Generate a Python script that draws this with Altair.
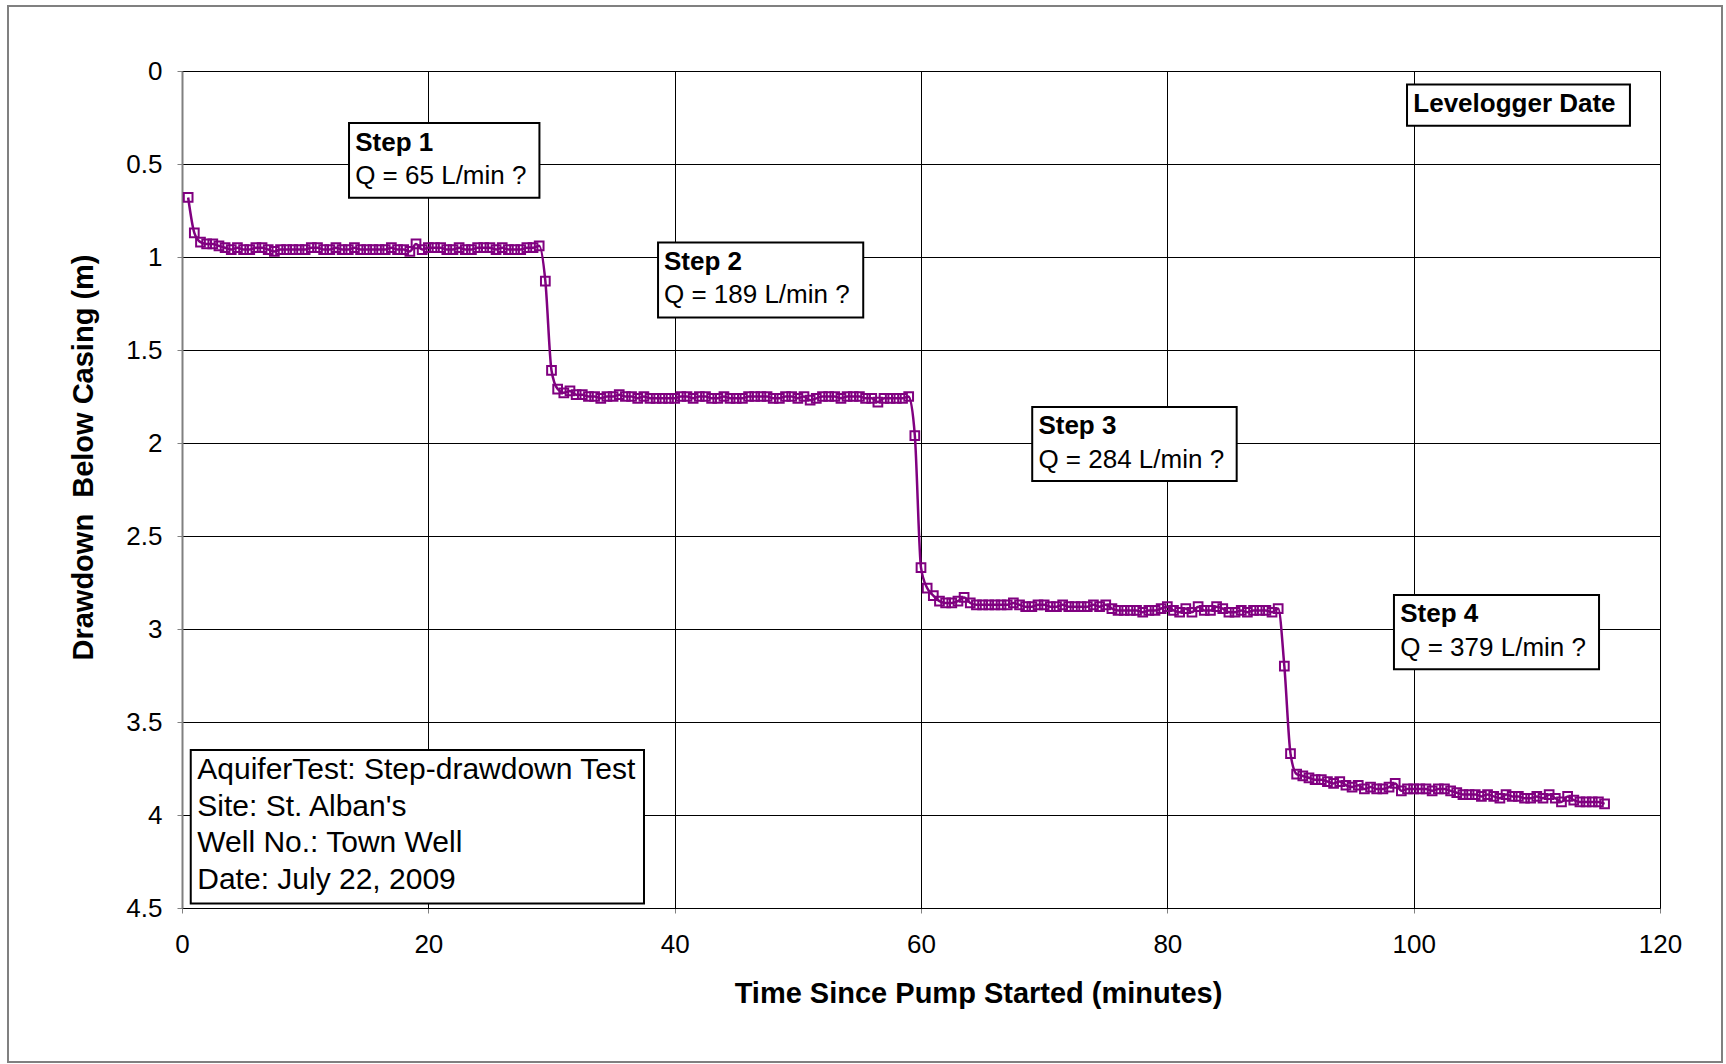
import altair as alt
import pandas as pd

# ---------------- data ----------------
time_min = [
    0.5, 1, 1.5, 2, 2.5, 3, 3.5, 4, 4.5, 5,
    5.5, 6, 6.5, 7, 7.5, 8, 8.5, 9, 9.5, 10,
    10.5, 11, 11.5, 12, 12.5, 13, 13.5, 14, 14.5, 15,
    15.5, 16, 16.5, 17, 17.5, 18, 18.5, 19, 19.5, 20,
    20.5, 21, 21.5, 22, 22.5, 23, 23.5, 24, 24.5, 25,
    25.5, 26, 26.5, 27, 27.5, 28, 28.5, 29, 29.5, 30,
    30.5, 31, 31.5, 32, 32.5, 33, 33.5, 34, 34.5, 35,
    35.5, 36, 36.5, 37, 37.5, 38, 38.5, 39, 39.5, 40,
    40.5, 41, 41.5, 42, 42.5, 43, 43.5, 44, 44.5, 45,
    45.5, 46, 46.5, 47, 47.5, 48, 48.5, 49, 49.5, 50,
    50.5, 51, 51.5, 52, 52.5, 53, 53.5, 54, 54.5, 55,
    55.5, 56, 56.5, 57, 57.5, 58, 58.5, 59, 59.5, 60,
    60.5, 61, 61.5, 62, 62.5, 63, 63.5, 64, 64.5, 65,
    65.5, 66, 66.5, 67, 67.5, 68, 68.5, 69, 69.5, 70,
    70.5, 71, 71.5, 72, 72.5, 73, 73.5, 74, 74.5, 75,
    75.5, 76, 76.5, 77, 77.5, 78, 78.5, 79, 79.5, 80,
    80.5, 81, 81.5, 82, 82.5, 83, 83.5, 84, 84.5, 85,
    85.5, 86, 86.5, 87, 87.5, 88, 88.5, 89, 89.5, 90,
    90.5, 91, 91.5, 92, 92.5, 93, 93.5, 94, 94.5, 95,
    95.5, 96, 96.5, 97, 97.5, 98, 98.5, 99, 99.5, 100,
    100.5, 101, 101.5, 102, 102.5, 103, 103.5, 104, 104.5, 105,
    105.5, 106, 106.5, 107, 107.5, 108, 108.5, 109, 109.5, 110,
    110.5, 111, 111.5, 112, 112.5, 113, 113.5, 114, 114.5, 115,
    115.5,
]

drawdown_m = [
    0.68, 0.87, 0.92, 0.93, 0.93, 0.94, 0.95, 0.96, 0.95, 0.96,
    0.96, 0.95, 0.95, 0.96, 0.97, 0.96, 0.96, 0.96, 0.96, 0.96,
    0.95, 0.95, 0.96, 0.96, 0.95, 0.96, 0.96, 0.95, 0.96, 0.96,
    0.96, 0.96, 0.96, 0.95, 0.96, 0.96, 0.97, 0.93, 0.96, 0.95,
    0.95, 0.95, 0.96, 0.96, 0.95, 0.96, 0.96, 0.95, 0.95, 0.95,
    0.96, 0.95, 0.96, 0.96, 0.96, 0.95, 0.95, 0.94, 1.13, 1.61,
    1.71, 1.73, 1.72, 1.74, 1.74, 1.75, 1.75, 1.76, 1.75, 1.75,
    1.74, 1.75, 1.75, 1.76, 1.75, 1.76, 1.76, 1.76, 1.76, 1.76,
    1.75, 1.75, 1.76, 1.75, 1.75, 1.76, 1.76, 1.75, 1.76, 1.76,
    1.76, 1.75, 1.75, 1.75, 1.75, 1.76, 1.76, 1.75, 1.75, 1.76,
    1.75, 1.77, 1.76, 1.75, 1.75, 1.75, 1.76, 1.75, 1.75, 1.75,
    1.76, 1.76, 1.78, 1.76, 1.76, 1.76, 1.76, 1.75, 1.96, 2.67,
    2.78, 2.82, 2.85, 2.86, 2.86, 2.85, 2.83, 2.86, 2.87, 2.87,
    2.87, 2.87, 2.87, 2.87, 2.86, 2.87, 2.88, 2.88, 2.87, 2.87,
    2.88, 2.88, 2.87, 2.88, 2.88, 2.88, 2.88, 2.87, 2.88, 2.87,
    2.89, 2.90, 2.90, 2.90, 2.90, 2.91, 2.90, 2.90, 2.89, 2.88,
    2.90, 2.91, 2.89, 2.91, 2.88, 2.90, 2.90, 2.88, 2.89, 2.91,
    2.91, 2.90, 2.91, 2.90, 2.90, 2.90, 2.91, 2.89, 3.20, 3.67,
    3.78, 3.79, 3.80, 3.81, 3.81, 3.82, 3.83, 3.82, 3.84, 3.85,
    3.84, 3.86, 3.85, 3.86, 3.86, 3.85, 3.83, 3.87, 3.86, 3.86,
    3.86, 3.86, 3.87, 3.86, 3.86, 3.87, 3.88, 3.89, 3.89, 3.89,
    3.90, 3.89, 3.90, 3.91, 3.89, 3.90, 3.90, 3.91, 3.91, 3.90,
    3.91, 3.89, 3.91, 3.93, 3.90, 3.92, 3.93, 3.93, 3.93, 3.93,
    3.94,
]

x_ticks = [0, 20, 40, 60, 80, 100, 120]
y_ticks = [0, 0.5, 1, 1.5, 2, 2.5, 3, 3.5, 4, 4.5]

step_titles = ["Step 1", "Step 2", "Step 3", "Step 4"]
step_rates = ["Q = 65 L/min ?", "Q = 189 L/min ?", "Q = 284 L/min ?", "Q = 379 L/min ?"]

legend_label = "Levelogger Date"
info_lines = [
    "AquiferTest: Step-drawdown Test",
    "Site: St. Alban's",
    "Well No.: Town Well",
    "Date: July 22, 2009",
]

# ---------------- annotation placement (data units) ----------------
step_box_t1 = [13.56, 38.65, 69.03, 98.40]
step_box_t2 = [29.02, 55.31, 85.63, 115.05]
step_box_d1 = [0.280, 0.922, 1.807, 2.817]
step_box_d2 = [0.682, 1.325, 2.204, 3.217]
step_text_t = [14.06, 39.13, 69.53, 98.91]
step_title_d = [0.428, 1.069, 1.954, 2.964]
step_rate_d = [0.607, 1.248, 2.133, 3.143]

legend_box = [99.46, 117.56, 0.072, 0.294]
legend_text = [99.97, 0.221]

info_box = [0.71, 37.51, 3.651, 4.476]
info_text_t = 1.24
info_text_d = [3.806, 4.003, 4.200, 4.397]

# ---------------- tables ----------------
series = pd.DataFrame({"t": time_min, "d": drawdown_m})

boxes = pd.DataFrame({
    "t1": step_box_t1 + [legend_box[0], info_box[0]],
    "t2": step_box_t2 + [legend_box[1], info_box[1]],
    "d1": step_box_d1 + [legend_box[2], info_box[2]],
    "d2": step_box_d2 + [legend_box[3], info_box[3]],
})

bold_text = pd.DataFrame({
    "t": step_text_t + [legend_text[0]],
    "d": step_title_d + [legend_text[1]],
    "label": step_titles + [legend_label],
})
plain_text = pd.DataFrame({
    "t": step_text_t,
    "d": step_rate_d,
    "label": step_rates,
})
info_text = pd.DataFrame({
    "t": [info_text_t] * len(info_lines),
    "d": info_text_d,
    "label": info_lines,
})

FONT = "Liberation Sans"
PURPLE = "#800080"

W, H = 1478, 837

xscale = alt.Scale(domain=[0, 120], nice=False, zero=False)
yscale = alt.Scale(domain=[0, 4.5], nice=False, zero=False, reverse=True)

x_axis = alt.Axis(
    values=x_ticks, format="d", title="Time Since Pump Started (minutes)",
    grid=True, gridColor="#000000", gridWidth=1,
    domainColor="#000000", domainWidth=1,
    tickColor="#808080", tickSize=5, tickWidth=1,
    labelFont=FONT, labelFontSize=26, labelColor="#000000", labelPadding=18,
    labelFlush=False,
    titleFont=FONT, titleFontSize=29, titleFontWeight="bold", titleColor="#000000",
    titleX=796, titleY=85, titleAlign="center", titleBaseline="middle",
)
y_axis = alt.Axis(
    values=y_ticks, format="~g", title="Drawdown\u00a0 Below Casing (m)",
    grid=True, gridColor="#000000", gridWidth=1,
    domainColor="#808080", domainWidth=2,
    tickColor="#808080", tickSize=5, tickWidth=1,
    labelFont=FONT, labelFontSize=26, labelColor="#000000", labelPadding=15,
    labelFlush=False,
    titleFont=FONT, titleFontSize=29, titleFontWeight="bold", titleColor="#000000",
    titleX=-99, titleY=386, titleAlign="center", titleBaseline="middle",
    titleAngle=270,
)


def X(field):
    return alt.X(field, type="quantitative", scale=xscale, axis=x_axis)


def Y(field):
    return alt.Y(field, type="quantitative", scale=yscale, axis=y_axis)


frame = alt.Chart(pd.DataFrame({"k": [0]})).mark_rect(
    fillOpacity=0, stroke="#808080", strokeWidth=2
).encode(
    x=alt.value(-174), x2=alt.value(1540), y=alt.value(-65), y2=alt.value(991)
)

line = alt.Chart(series).mark_line(
    color=PURPLE, strokeWidth=2.5, interpolate="monotone"
).encode(x=X("t"), y=Y("d"))

points = alt.Chart(series).mark_point(
    shape="square", filled=False, size=76, strokeWidth=2, color=PURPLE, opacity=1
).encode(x=X("t"), y=Y("d"))

box_layer = alt.Chart(boxes).mark_rect(
    fill="white", stroke="#000000", strokeWidth=2
).encode(x=X("t1"), x2=alt.X2("t2"), y=Y("d1"), y2=alt.Y2("d2"))

bold_layer = alt.Chart(bold_text).mark_text(
    align="left", baseline="alphabetic", font=FONT, fontSize=26,
    fontWeight="bold", color="#000000"
).encode(x=X("t"), y=Y("d"), text="label:N")

plain_layer = alt.Chart(plain_text).mark_text(
    align="left", baseline="alphabetic", font=FONT, fontSize=26, color="#000000"
).encode(x=X("t"), y=Y("d"), text="label:N")

info_layer = alt.Chart(info_text).mark_text(
    align="left", baseline="alphabetic", font=FONT, fontSize=30, color="#000000"
).encode(x=X("t"), y=Y("d"), text="label:N")

chart = alt.layer(
    frame, line, points, box_layer, bold_layer, plain_layer, info_layer
).properties(
    width=W, height=H,
    padding={"left": 182, "top": 71, "right": 66, "bottom": 156},
    autosize=alt.AutoSizeParams(type="none"),
    background="white",
).configure_view(
    stroke="#000000", strokeWidth=1
)

chart.save("out.html", embed_options={"renderer": "svg", "actions": False})
